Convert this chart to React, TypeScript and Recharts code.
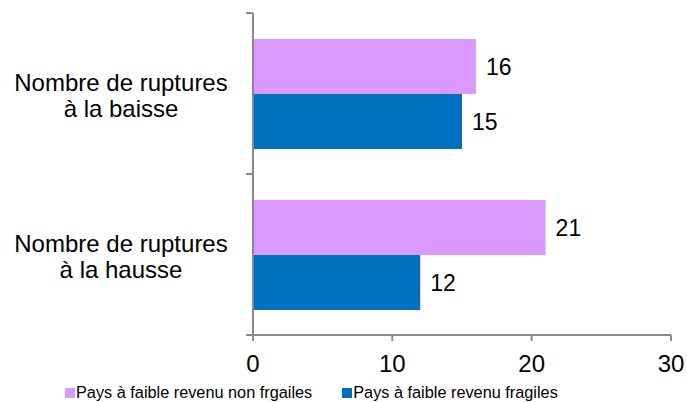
import { Bar, BarChart, LabelList, Legend, XAxis, YAxis } from "recharts";

const CATEGORIES = ["Nombre de ruptures\nà la baisse", "Nombre de ruptures\nà la hausse"];
const NON_FRAGILE = [16, 21];
const FRAGILE = [15, 12];
const X_TICKS = [0, 10, 20, 30];
const SERIES_NAMES = ["Pays à faible revenu non frgailes", "Pays à faible revenu fragiles"];

const PINK = "#da99fe";
const BLUE = "#0070c0";
const AXIS_GRAY = "#898989";
const FONT = "'Liberation Sans', Arial, sans-serif";

const WIDTH = 687;
const HEIGHT = 402;
const Y_AXIS_WIDTH = 253;
const LABEL_X = 121;
const MARGIN = { top: 13, right: 16, bottom: 1, left: 0 };
const X_AXIS_HEIGHT = 48;
const LEGEND_HEIGHT = 18;
const PLOT_HEIGHT = HEIGHT - MARGIN.top - MARGIN.bottom - X_AXIS_HEIGHT - LEGEND_HEIGHT;

const data = CATEGORIES.map((name, i) => ({
  name,
  nonFragile: NON_FRAGILE[i],
  fragile: FRAGILE[i],
}));

// category labels on two lines, plus the small ticks at the band edges
function CategoryTick(props: any) {
  const { y, payload, index, visibleTicksCount } = props;
  const half =
    typeof payload.offset === "number" && payload.offset > 0
      ? payload.offset
      : PLOT_HEIGHT / CATEGORIES.length / 2;
  const lines = String(payload.value).split("\n");
  return (
    <g>
      <text textAnchor="middle" fontSize={24} fill="#000" fontFamily={FONT}>
        {lines.map((line, i) => (
          <tspan key={i} x={LABEL_X} y={y + (i === 0 ? -2.5 : 23.5)}>
            {line}
          </tspan>
        ))}
      </text>
      <line
        x1={Y_AXIS_WIDTH - 7}
        x2={Y_AXIS_WIDTH}
        y1={y - half}
        y2={y - half}
        stroke={AXIS_GRAY}
        strokeWidth={2}
      />
      {index === visibleTicksCount - 1 && (
        <line
          x1={Y_AXIS_WIDTH - 7}
          x2={Y_AXIS_WIDTH}
          y1={y + half}
          y2={y + half}
          stroke={AXIS_GRAY}
          strokeWidth={2}
        />
      )}
    </g>
  );
}

function LegendContent() {
  const colors = [PINK, BLUE];
  return (
    <div
      style={{
        display: "flex",
        height: LEGEND_HEIGHT,
        lineHeight: `${LEGEND_HEIGHT}px`,
        fontFamily: FONT,
        fontSize: 16.3,
        color: "#000",
        whiteSpace: "nowrap",
      }}
    >
      {SERIES_NAMES.map((name, i) => (
        <div key={name} style={{ display: "flex", alignItems: "center", marginRight: 30 }}>
          <span
            style={{
              display: "inline-block",
              width: 10,
              height: 10,
              background: colors[i],
              marginRight: 1,
              marginTop: 2,
            }}
          />
          <span>{name}</span>
        </div>
      ))}
    </div>
  );
}

export default function App() {
  return (
    <div style={{ position: "absolute", left: 0, top: 0, width: WIDTH, height: HEIGHT }}>
      <BarChart
        width={WIDTH}
        height={HEIGHT}
        data={data}
        layout="vertical"
        margin={MARGIN}
        barCategoryGap={26}
        barGap={0}
      >
        <XAxis
          type="number"
          domain={[0, 30]}
          ticks={X_TICKS}
          interval={0}
          height={X_AXIS_HEIGHT}
          tickSize={6}
          tickMargin={14}
          axisLine={{ stroke: AXIS_GRAY, strokeWidth: 2 }}
          tickLine={{ stroke: AXIS_GRAY, strokeWidth: 2 }}
          tick={{ fill: "#000", fontSize: 24, fontFamily: FONT }}
        />
        <YAxis
          type="category"
          dataKey="name"
          width={Y_AXIS_WIDTH}
          axisLine={{ stroke: AXIS_GRAY, strokeWidth: 2 }}
          tickLine={false}
          tick={<CategoryTick />}
          interval={0}
        />
        <Legend
          verticalAlign="bottom"
          align="left"
          height={LEGEND_HEIGHT}
          content={<LegendContent />}
          wrapperStyle={{ left: 65, width: "auto", bottom: MARGIN.bottom }}
        />
        <Bar dataKey="nonFragile" name={SERIES_NAMES[0]} fill={PINK} isAnimationActive={false}>
          <LabelList
            dataKey="nonFragile"
            position="right"
            offset={10}
            fill="#000"
            fontSize={23}
            fontFamily={FONT}
          />
        </Bar>
        <Bar dataKey="fragile" name={SERIES_NAMES[1]} fill={BLUE} isAnimationActive={false}>
          <LabelList
            dataKey="fragile"
            position="right"
            offset={10}
            fill="#000"
            fontSize={23}
            fontFamily={FONT}
          />
        </Bar>
      </BarChart>
    </div>
  );
}
